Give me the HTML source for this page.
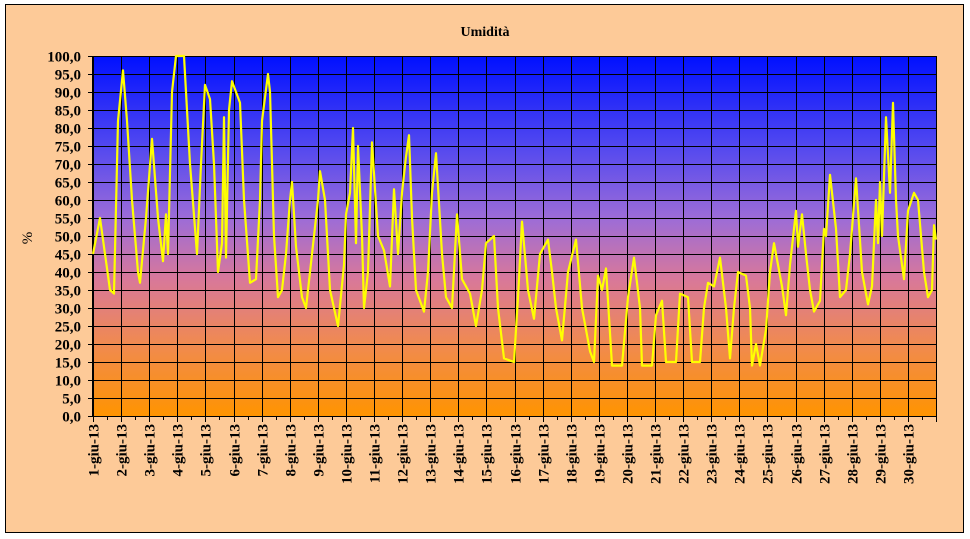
<!DOCTYPE html><html><head><meta charset="utf-8"><style>
body{margin:0;background:#fff;}
svg{display:block;font-family:"Liberation Serif",serif;}
</style></head><body>
<svg id="s" width="970" height="539" xmlns="http://www.w3.org/2000/svg">
<defs>
<linearGradient id="g" x1="0" y1="0" x2="0" y2="1">
<stop offset="0" stop-color="#0010ff"/>
<stop offset="0.25" stop-color="#5248f0"/>
<stop offset="0.45" stop-color="#9c6cd8"/>
<stop offset="0.62" stop-color="#d8789a"/>
<stop offset="0.8" stop-color="#f08a50"/>
<stop offset="1" stop-color="#ff9400"/>
</linearGradient>
</defs>
<rect x="0" y="0" width="970" height="539" fill="#fff"/>
<rect x="5.5" y="4.5" width="958" height="528" fill="#fdca98" stroke="#000"/>
<text x="485" y="36" font-size="14" font-weight="bold" text-anchor="middle">Umidità</text>
<text transform="translate(32,238) rotate(-90)" font-size="15" text-anchor="middle">%</text>
<rect x="93" y="56" width="843" height="360" fill="url(#g)"/>
<g id="grid" stroke="#000" stroke-width="1"></g>
<g id="lab" font-size="15" font-weight="bold"></g>
<polyline id="p" fill="none" stroke="#ffff00" stroke-width="2.2" stroke-linejoin="round"/>
</svg>
<script>
var NS="http://www.w3.org/2000/svg",g=document.getElementById("grid"),lab=document.getElementById("lab");
function el(t,a,p,tx){var e=document.createElementNS(NS,t);for(var k in a)e.setAttribute(k,a[k]);if(tx)e.textContent=tx;p.appendChild(e);return e;}
for(var i=0;i<=20;i++){var y=416-18*i+0.5;el("line",{x1:88,x2:936,y1:y,y2:y},g);
el("text",{x:81,y:y+5,"text-anchor":"end"},lab,(i*5).toFixed(1).replace(".",","));}
for(var d=0;d<=30;d++){var x=Math.round(93+28.1*d)+0.5;el("line",{x1:x,x2:x,y1:56,y2:422},g);
if(d<30){var xm=Math.round(93+28.1*(d+0.5))+0.5;el("line",{x1:xm,x2:xm,y1:416,y2:420},g);
el("text",{transform:"translate("+(x+5)+",424) rotate(-90)","text-anchor":"end"},lab,(d+1)+"-giu-13");}}
el("line",{x1:92.5,x2:92.5,y1:56,y2:416},g);
var d=[93,45,100,55,110,35,114,34,118,82,123,96,127,82,132,60,138,40,140,37,146,55,152,77,158,55,163,43,166,56,168,45,172,90,176,100,184,100,190,70,197,45,201,70,205,92,210,88,214,70,218,40,222,48,224,83,226,44,229,85,232,93,236,90,240,87,244,60,250,37,256,38,260,60,262,82,268,95,270,90,274,50,278,33,282,35,286,45,290,60,292,65,296,47,302,33,306,30,312,45,318,60,320,68,325,60,330,35,338,25,344,42,346,56,350,62,353,80,356,48,358,75,362,50,364,30,368,40,372,76,378,50,384,46,390,36,394,63,398,45,402,62,406,72,409,78,412,55,416,35,424,29,428,40,432,62,436,73,442,45,446,33,452,30,457,56,462,38,470,34,476,25,482,35,486,48,494,50,498,30,504,16,514,15,518,33,522,54,528,35,534,27,540,45,548,49,552,40,556,30,562,21,568,40,576,49,582,30,590,18,594,15,598,39,602,35,606,41,612,14,622,14,628,33,634,44,640,30,642,14,652,14,656,28,662,32,666,15,676,15,680,34,688,33,692,15,700,15,704,30,708,37,714,36,720,44,726,30,730,16,734,30,738,40,746,39,750,30,752,14,756,20,760,14,766,24,770,40,774,48,782,36,786,28,790,42,796,57,798,47,802,56,806,45,810,35,814,29,820,32,824,52,826,50,830,67,836,52,840,33,846,35,850,45,856,66,862,40,868,31,872,36,876,60,878,48,880,65,882,50,886,83,890,62,893,87,896,60,898,50,904,38,908,57,914,62,918,60,924,40,928,33,932,35,934,53,936,49];
var pts=[];for(var i=0;i<d.length;i+=2)pts.push(d[i]+","+(416-3.6*d[i+1]).toFixed(1));
document.getElementById("p").setAttribute("points",pts.join(" "));
</script>
</body></html>
